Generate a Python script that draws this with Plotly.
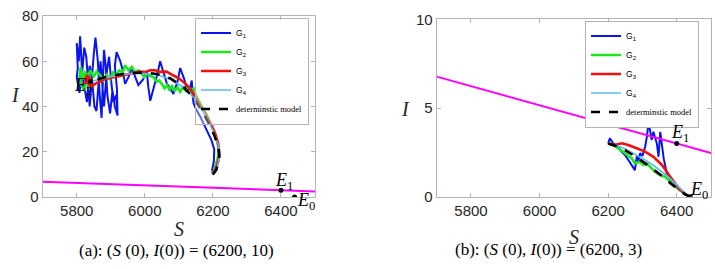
import plotly.graph_objects as go

# ---------------- data: panel (a) ----------------
a_det_S = [6200, 6210, 6216, 6219, 6216, 6205, 6190, 6172, 6143, 6113, 6074, 6035, 6000, 5960, 5920, 5880, 5850, 5840]
a_det_I = [10, 12, 15, 18, 22, 27, 32, 37, 44, 48.7, 52.5, 54.4, 55, 54.8, 54, 52.8, 51.5, 51]

a_g4_S = [6200, 6211, 6217, 6220, 6217, 6206, 6191, 6173, 6145, 6115, 6076, 6037, 6002, 5962, 5921, 5882, 5852, 5842]
a_g4_I = [10, 12.3, 15.4, 18.4, 22.5, 27.4, 32.2, 37.3, 43.8, 48.3, 52.0, 53.9, 54.6, 54.6, 53.8, 52.6, 51.6, 51.2]

a_g3_S = [6200, 6209, 6216, 6219, 6216, 6207, 6195, 6180, 6165, 6150, 6135, 6120, 6100, 6083, 6064, 6045, 6030, 6016, 6000,
          5986, 5967, 5947, 5925, 5898, 5880, 5869, 5860, 5849, 5840, 5832, 5829, 5825, 5835, 5845, 5838]
a_g3_I = [10, 12.5, 16, 19, 23.5, 28, 32, 36, 40, 44, 47.5, 50, 52.5, 53.8, 55.4, 55.3, 56, 56, 55.2,
          55.4, 54.8, 54.2, 53.5, 52.5, 52, 51, 50.5, 49.5, 48.8, 51, 54, 50, 53, 51.5, 50]

a_g2_S = [6200, 6207, 6214, 6217, 6212, 6203, 6192, 6180, 6168, 6158, 6150, 6143, 6135, 6128, 6120, 6112, 6104, 6096, 6088,
          6080, 6072, 6065, 6058, 6050, 6042, 6035, 6025, 6016, 6006, 5998, 5990, 5980, 5972, 5962, 5952, 5942, 5935,
          5925, 5915, 5907, 5898, 5888, 5878, 5868, 5858, 5850, 5840, 5832, 5825, 5818, 5812, 5808, 5815, 5822, 5828,
          5835, 5842, 5838]
a_g2_I = [10, 13, 17, 21, 25, 29, 33, 37, 40, 43, 45, 48, 47, 49, 47, 48.5, 46.5, 48.5, 47,
          49, 47.5, 49.5, 48, 50, 51.5, 51, 53, 53.5, 54.5, 53, 55, 56, 55, 57.5, 56, 58.3, 55,
          56, 53.5, 55, 52, 54, 51.5, 54, 55.5, 53, 56, 53, 55.5, 52, 57.5, 53, 49, 47, 51,
          49, 52, 48]

a_g1_S = [6200, 6198, 6203, 6204, 6196, 6187, 6175, 6163, 6150, 6143, 6140, 6138, 6132, 6124, 6116, 6104, 6096, 6084,
          6075, 6065, 6055, 6045, 6038, 6030, 6022, 6016, 6010, 6006, 5995, 5981, 5972, 5962, 5952, 5942, 5935, 5928,
          5917, 5912, 5918, 5920, 5912, 5905, 5898, 5890, 5885, 5880, 5873, 5868, 5862, 5855, 5850, 5846, 5842, 5838,
          5834, 5828, 5822, 5816, 5810, 5806, 5800, 5803, 5800, 5808, 5815, 5822, 5830, 5838, 5845, 5852, 5858, 5864,
          5870, 5876, 5880, 5888, 5895, 5902, 5908, 5916, 5920]
a_g1_I = [10, 12, 16, 21, 25, 28, 32, 35.5, 39, 41.5, 46, 51.5, 48, 47, 52, 57, 51, 45.5,
          48, 50, 55, 60, 55, 50, 46, 42.5, 49, 55.5, 52, 49.5, 53, 57, 53, 50, 56, 60,
          64, 58, 48, 36, 40, 47, 37, 45, 58, 65, 35, 44, 60, 70.5, 63, 55, 48, 40,
          50, 62, 66, 55, 71, 60, 68, 57, 53, 46, 55, 48, 42, 58, 52, 40, 38, 50,
          60, 48, 40, 55, 62, 50, 42, 45, 37]

# ---------------- data: panel (b) ----------------
b_det_S = [6200, 6225, 6249, 6270, 6288, 6310, 6327, 6345, 6366, 6385, 6406, 6425, 6440]
b_det_I = [3.0, 2.85, 2.63, 2.4, 2.16, 1.85, 1.6, 1.33, 1.04, 0.7, 0.38, 0.12, 0]

b_g4_S = [6200, 6225, 6249, 6270, 6290, 6310, 6330, 6350, 6370, 6390, 6410, 6428, 6440]
b_g4_I = [3.0, 2.88, 2.7, 2.48, 2.27, 2.05, 1.8, 1.52, 1.2, 0.85, 0.48, 0.15, 0]

b_g3_S = [6200, 6219, 6239, 6259, 6283, 6308, 6332, 6357, 6381, 6406, 6435]
b_g3_I = [3.0, 2.91, 3.01, 2.91, 2.73, 2.54, 2.25, 1.79, 1.13, 0.47, 0]

b_g2_S = [6200, 6215, 6229, 6249, 6269, 6278, 6293, 6303, 6313, 6327, 6337, 6352, 6366, 6381, 6396, 6416, 6435]
b_g2_I = [3.0, 2.9, 2.73, 2.45, 2.16, 1.88, 1.97, 1.79, 1.88, 1.6, 1.41, 1.22, 1.13, 0.85, 0.56, 0.28, 0]

b_g1_S = [6200, 6205, 6215, 6228, 6239, 6249, 6259, 6269, 6278, 6284, 6288, 6293, 6300, 6308, 6313, 6318, 6322,
          6327, 6332, 6337, 6342, 6347, 6352, 6357, 6362, 6371, 6386, 6406, 6435]
b_g1_I = [3.0, 3.29, 3.0, 2.85, 2.54, 2.35, 2.07, 1.79, 1.5, 2.3, 1.97, 2.45, 2.3, 2.82, 3.38, 4.2, 3.7,
          3.2, 3.66, 3.3, 3.0, 2.25, 3.66, 2.9, 2.16, 1.32, 0.85, 0.4, 0]

# threshold line and equilibria
line_S = [5700, 6500]
line_I = [6.77, 2.46]
E0 = (6440, 0)
E1 = (6400, 3)
E2 = (5840, 51)

# ---------------- styles ----------------
BLUE = "#0a14f0"
GREEN = "#1ee61e"
RED = "#f01010"
LBLUE = "#5cbdf0"
MAG = "#ff00ff"
AX = "#b4b4b4"
TXT = "#262626"
SERIF = "Liberation Serif"
SANS = "Liberation Sans"

fig = go.Figure()


def add_panel(xa, ya, leg, g1, g2, g3, g4, det):
    specs = [
        (g1, BLUE, 2, "solid", "G<sub>1</sub>"),
        (g2, GREEN, 2.6, "solid", "G<sub>2</sub>"),
        (g3, RED, 2.6, "solid", "G<sub>3</sub>"),
        (g4, LBLUE, 1.6, "solid", "G<sub>4</sub>"),
        (det, "black", 2.6, "dash",
         "<span style='font-family:Liberation Serif'>determinstic model</span>"),
    ]
    for (S, I), col, w, dash, name in specs:
        fig.add_trace(go.Scatter(
            x=S, y=I, mode="lines", name=name, xaxis=xa, yaxis=ya, legend=leg,
            line=dict(color=col, width=w, dash=dash),
        ))
    fig.add_trace(go.Scatter(x=line_S, y=[line_I[0], line_I[1]], mode="lines", showlegend=False,
                             xaxis=xa, yaxis=ya, line=dict(color=MAG, width=2)))


add_panel("x", "y", "legend", (a_g1_S, a_g1_I), (a_g2_S, a_g2_I), (a_g3_S, a_g3_I),
          (a_g4_S, a_g4_I), (a_det_S, a_det_I))
fig.add_trace(go.Scatter(x=[E0[0], E1[0], E2[0]], y=[E0[1], E1[1], E2[1]], mode="markers",
                         showlegend=False, xaxis="x", yaxis="y",
                         marker=dict(color="black", size=5)))
add_panel("x2", "y2", "legend2", (b_g1_S, b_g1_I), (b_g2_S, b_g2_I), (b_g3_S, b_g3_I),
          (b_g4_S, b_g4_I), (b_det_S, b_det_I))
fig.add_trace(go.Scatter(x=[E0[0], E1[0]], y=[E0[1], E1[1]], mode="markers",
                         showlegend=False, xaxis="x2", yaxis="y2",
                         marker=dict(color="black", size=5)))

W, H = 715, 269


def px(x):
    return x / W


def py(y):
    return 1 - y / H


axis_common = dict(showline=True, linecolor=AX, linewidth=1, mirror="ticks", ticks="inside",
                   ticklen=4, tickcolor=AX, showgrid=False, zeroline=False, automargin=False,
                   tickfont=dict(family=SANS, size=15, color=TXT))

leg_common = dict(xanchor="right", yanchor="top",
                  bordercolor=AX, borderwidth=1, font=dict(family=SANS, size=8.5, color="black"),
                  tracegroupgap=0, itemwidth=30)

fig.update_layout(
    width=W, height=H, margin=dict(l=0, r=0, t=0, b=0, autoexpand=False),
    paper_bgcolor="white", plot_bgcolor="white",
    xaxis=dict(domain=[px(42.7), px(315)], range=[5700, 6500], anchor="y",
               tickvals=[5800, 6000, 6200, 6400], **axis_common),
    yaxis=dict(domain=[py(197), py(16)], range=[0, 80], anchor="x",
               tickvals=[0, 20, 40, 60, 80], **axis_common),
    xaxis2=dict(domain=[px(436.7), px(711)], range=[5700, 6500], anchor="y2",
                tickvals=[5800, 6000, 6200, 6400], **axis_common),
    yaxis2=dict(domain=[py(196.7), py(19.3)], range=[0, 10], anchor="x2",
                tickvals=[0, 5, 10], **axis_common),
    legend=dict(x=px(309), y=py(17.5), bgcolor="rgba(255,255,255,0.35)", **leg_common),
    legend2=dict(x=px(699), y=py(20.5), bgcolor="white", **leg_common),
    showlegend=True,
)

ann = []
efont = dict(family=SERIF, size=18, color="black")
# panel (a) equilibrium labels
ann.append(dict(x=E2[0], y=E2[1], xref="x", yref="y", text="<i>E</i><sub>2</sub>", showarrow=False,
                xanchor="right", yanchor="middle", xshift=4, yshift=-5, font=efont))
ann.append(dict(x=E1[0], y=E1[1], xref="x", yref="y", text="<i>E</i><sub>1</sub>", showarrow=False,
                xanchor="center", yanchor="bottom", xshift=3, yshift=-5, font=efont))
ann.append(dict(x=E0[0], y=E0[1], xref="x", yref="y", text="<i>E</i><sub>0</sub>", showarrow=False,
                xanchor="left", yanchor="middle", xshift=0, yshift=-4, font=efont))
# panel (b)
ann.append(dict(x=E1[0], y=E1[1], xref="x2", yref="y2", text="<i>E</i><sub>1</sub>", showarrow=False,
                xanchor="center", yanchor="bottom", xshift=3, yshift=-4, font=efont))
ann.append(dict(x=E0[0], y=E0[1], xref="x2", yref="y2", text="<i>E</i><sub>0</sub>", showarrow=False,
                xanchor="left", yanchor="middle", xshift=-2, yshift=6, font=efont))
# axis titles
tfont = dict(family=SERIF, size=20, color=TXT)
ann.append(dict(x=px(179), y=py(228.5), xref="paper", yref="paper", text="<i>S</i>", showarrow=False,
                xanchor="center", yanchor="middle", font=tfont))
ann.append(dict(x=px(574), y=py(236.5), xref="paper", yref="paper", text="<i>S</i>", showarrow=False,
                xanchor="center", yanchor="middle", font=tfont))
ann.append(dict(x=px(15.5), y=py(95), xref="paper", yref="paper", text="<i>I</i>", showarrow=False,
                xanchor="center", yanchor="middle", font=tfont))
ann.append(dict(x=px(405), y=py(109), xref="paper", yref="paper", text="<i>I</i>", showarrow=False,
                xanchor="center", yanchor="middle", font=tfont))
# captions
cfont = dict(family=SERIF, size=17, color="black")
ann.append(dict(x=px(176.5), y=py(250), xref="paper", yref="paper",
                text="(a): (<i>S</i> (0), <i>I</i>(0)) = (6200, 10)", showarrow=False,
                xanchor="center", yanchor="middle", font=cfont))
ann.append(dict(x=px(548), y=py(249.5), xref="paper", yref="paper",
                text="(b): (<i>S</i> (0), <i>I</i>(0)) = (6200, 3)", showarrow=False,
                xanchor="center", yanchor="middle", font=cfont))
fig.update_layout(annotations=ann)

fig.write_html("out.html", config={"displayModeBar": False},
               post_script="document.body.style.margin='0';")
